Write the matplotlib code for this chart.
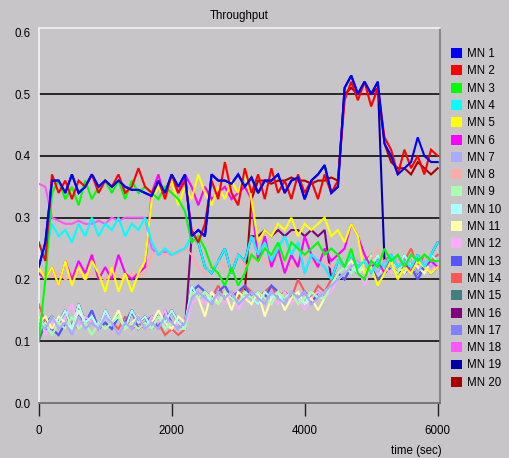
import numpy as np
import matplotlib
matplotlib.use("Agg")
import matplotlib.pyplot as plt
from matplotlib.patches import Patch

plt.rcParams['font.family'] = ['Liberation Sans', 'DejaVu Sans']

# ---------------- data ----------------
time_s = np.arange(0, 6001, 100)  # sample instants (sec)

mn1 = [0.22, 0.26, 0.36, 0.36, 0.34, 0.37, 0.34, 0.35, 0.37, 0.35,
       0.36, 0.35, 0.36, 0.35, 0.345, 0.345, 0.34, 0.335, 0.36, 0.34,
       0.37, 0.35, 0.37, 0.27, 0.28, 0.27, 0.37, 0.36, 0.36, 0.355,
       0.37, 0.35, 0.365, 0.34, 0.36, 0.36, 0.37, 0.34, 0.36, 0.365,
       0.33, 0.36, 0.37, 0.385, 0.34, 0.35, 0.51, 0.53, 0.50, 0.52,
       0.50, 0.52, 0.42, 0.40, 0.37, 0.38, 0.39, 0.43, 0.40, 0.39,
       0.39]
mn2 = [0.26, 0.23, 0.37, 0.34, 0.36, 0.33, 0.36, 0.35, 0.37, 0.34,
       0.36, 0.35, 0.37, 0.34, 0.35, 0.38, 0.35, 0.34, 0.36, 0.33,
       0.37, 0.34, 0.36, 0.28, 0.26, 0.29, 0.36, 0.33, 0.39, 0.34,
       0.32, 0.38, 0.34, 0.37, 0.33, 0.38, 0.34, 0.36, 0.33, 0.37,
       0.34, 0.36, 0.33, 0.37, 0.34, 0.36, 0.49, 0.52, 0.49, 0.52,
       0.48, 0.51, 0.43, 0.41, 0.37, 0.41, 0.38, 0.40, 0.37, 0.41,
       0.40]
mn3 = [0.10, 0.20, 0.34, 0.36, 0.33, 0.35, 0.32, 0.36, 0.33, 0.35,
       0.36, 0.34, 0.36, 0.33, 0.36, 0.34, 0.35, 0.34, 0.33, 0.35,
       0.34, 0.33, 0.31, 0.26, 0.27, 0.25, 0.22, 0.21, 0.19, 0.22,
       0.19, 0.21, 0.24, 0.23, 0.25, 0.24, 0.26, 0.23, 0.26, 0.25,
       0.24, 0.25, 0.26, 0.24, 0.25, 0.24, 0.22, 0.25, 0.21, 0.20,
       0.23, 0.22, 0.25, 0.23, 0.24, 0.22, 0.24, 0.23, 0.24, 0.23,
       0.23]
mn4 = [0.26, 0.24, 0.29, 0.27, 0.28, 0.26, 0.29, 0.27, 0.30, 0.27,
       0.29, 0.28, 0.30, 0.27, 0.29, 0.28, 0.30, 0.26, 0.24, 0.25,
       0.24, 0.245, 0.25, 0.27, 0.26, 0.22, 0.21, 0.23, 0.25, 0.21,
       0.24, 0.23, 0.27, 0.24, 0.26, 0.23, 0.25, 0.27, 0.24, 0.26,
       0.21, 0.24, 0.23, 0.22, 0.20, 0.23, 0.22, 0.24, 0.22, 0.23,
       0.21, 0.23, 0.22, 0.24, 0.22, 0.23, 0.22, 0.24, 0.22, 0.24,
       0.26]
mn5 = [0.22, 0.20, 0.22, 0.19, 0.23, 0.19, 0.22, 0.20, 0.23, 0.21,
       0.18, 0.22, 0.18, 0.21, 0.18, 0.21, 0.23, 0.33, 0.35, 0.33,
       0.36, 0.32, 0.35, 0.33, 0.37, 0.34, 0.32, 0.35, 0.33, 0.36,
       0.34, 0.37, 0.33, 0.26, 0.28, 0.27, 0.29, 0.28, 0.30, 0.27,
       0.29, 0.28, 0.29, 0.30, 0.27, 0.28, 0.26, 0.29, 0.27, 0.21,
       0.22, 0.19, 0.21, 0.23, 0.20, 0.22, 0.21, 0.23, 0.22, 0.21,
       0.22]
mn6 = [0.21, 0.20, 0.22, 0.19, 0.23, 0.20, 0.23, 0.21, 0.24, 0.20,
       0.22, 0.20, 0.24, 0.21, 0.20, 0.21, 0.22, 0.34, 0.37, 0.33,
       0.36, 0.34, 0.37, 0.35, 0.32, 0.35, 0.33, 0.34, 0.35, 0.33,
       0.34, 0.35, 0.33, 0.23, 0.27, 0.22, 0.25, 0.21, 0.24, 0.22,
       0.27, 0.24, 0.22, 0.25, 0.23, 0.24, 0.25, 0.29, 0.27, 0.24,
       0.22, 0.23, 0.21, 0.24, 0.22, 0.23, 0.21, 0.24, 0.22, 0.23,
       0.22]
mn7 = [0.13, 0.12, 0.14, 0.12, 0.13, 0.11, 0.14, 0.12, 0.13, 0.12,
       0.14, 0.13, 0.11, 0.13, 0.12, 0.14, 0.12, 0.13, 0.12, 0.14,
       0.13, 0.12, 0.13, 0.17, 0.18, 0.17, 0.16, 0.18, 0.17, 0.18,
       0.16, 0.17, 0.18, 0.17, 0.16, 0.18, 0.17, 0.16, 0.18, 0.17,
       0.18, 0.16, 0.17, 0.18, 0.19, 0.20, 0.21, 0.22, 0.23, 0.22,
       0.23, 0.21, 0.23, 0.22, 0.24, 0.22, 0.23, 0.21, 0.23, 0.22,
       0.23]
mn8 = [0.21, 0.21, 0.205, 0.21, 0.20, 0.205, 0.21, 0.20, 0.21, 0.205,
       0.20, 0.21, 0.205, 0.20, 0.21, 0.205, 0.21, 0.24, 0.245, 0.24,
       0.245, 0.24, 0.25, 0.24, 0.22, 0.21, 0.22, 0.23, 0.22, 0.23,
       0.24, 0.22, 0.23, 0.24, 0.23, 0.22, 0.24, 0.23, 0.22, 0.23,
       0.24, 0.23, 0.22, 0.23, 0.22, 0.23, 0.22, 0.24, 0.23, 0.22,
       0.23, 0.25, 0.22, 0.24, 0.23, 0.22, 0.24, 0.23, 0.24, 0.22,
       0.23]
mn9 = [0.12, 0.13, 0.11, 0.13, 0.12, 0.14, 0.12, 0.13, 0.11, 0.13,
       0.12, 0.13, 0.14, 0.12, 0.13, 0.12, 0.13, 0.12, 0.14, 0.12,
       0.13, 0.12, 0.12, 0.18, 0.17, 0.18, 0.17, 0.16, 0.18, 0.17,
       0.16, 0.18, 0.17, 0.18, 0.17, 0.16, 0.18, 0.17, 0.18, 0.16,
       0.17, 0.18, 0.17, 0.17, 0.19, 0.21, 0.22, 0.21, 0.23, 0.22,
       0.24, 0.22, 0.23, 0.22, 0.21, 0.23, 0.22, 0.24, 0.22, 0.23,
       0.22]
mn10 = [0.14, 0.12, 0.14, 0.13, 0.15, 0.12, 0.16, 0.13, 0.14, 0.12,
        0.15, 0.13, 0.14, 0.12, 0.15, 0.13, 0.14, 0.12, 0.14, 0.13,
        0.15, 0.13, 0.12, 0.19, 0.17, 0.18, 0.16, 0.18, 0.17, 0.18,
        0.16, 0.18, 0.17, 0.16, 0.18, 0.17, 0.18, 0.16, 0.18, 0.17,
        0.16, 0.18, 0.17, 0.18, 0.19, 0.20, 0.21, 0.22, 0.21, 0.23,
        0.22, 0.24, 0.22, 0.23, 0.22, 0.24, 0.22, 0.23, 0.22, 0.24,
        0.23]
mn11 = [0.13, 0.14, 0.12, 0.14, 0.13, 0.12, 0.15, 0.13, 0.14, 0.12,
        0.14, 0.13, 0.15, 0.12, 0.13, 0.14, 0.12, 0.13, 0.15, 0.13,
        0.12, 0.14, 0.13, 0.18, 0.17, 0.14, 0.18, 0.16, 0.18, 0.15,
        0.18, 0.17, 0.16, 0.18, 0.14, 0.17, 0.18, 0.15, 0.17, 0.18,
        0.16, 0.17, 0.15, 0.17, 0.19, 0.21, 0.22, 0.23, 0.21, 0.22,
        0.23, 0.21, 0.22, 0.24, 0.22, 0.21, 0.23, 0.22, 0.21, 0.23,
        0.22]
mn12 = [0.15, 0.11, 0.13, 0.12, 0.14, 0.16, 0.12, 0.14, 0.13, 0.12,
        0.15, 0.13, 0.14, 0.12, 0.13, 0.14, 0.12, 0.14, 0.13, 0.15,
        0.12, 0.13, 0.12, 0.16, 0.17, 0.16, 0.18, 0.17, 0.16, 0.18,
        0.15, 0.17, 0.16, 0.18, 0.14, 0.17, 0.16, 0.18, 0.16, 0.17,
        0.15, 0.17, 0.18, 0.17, 0.18, 0.20, 0.21, 0.23, 0.22, 0.19,
        0.22, 0.23, 0.22, 0.21, 0.23, 0.22, 0.24, 0.22, 0.23, 0.21,
        0.23]
mn13 = [0.13, 0.12, 0.12, 0.11, 0.13, 0.12, 0.14, 0.13, 0.15, 0.12,
        0.13, 0.12, 0.14, 0.13, 0.15, 0.12, 0.13, 0.14, 0.12, 0.15,
        0.13, 0.12, 0.13, 0.18, 0.19, 0.18, 0.17, 0.18, 0.19, 0.17,
        0.18, 0.19, 0.17, 0.18, 0.17, 0.19, 0.18, 0.17, 0.18, 0.17,
        0.18, 0.16, 0.18, 0.17, 0.19, 0.21, 0.20, 0.22, 0.21, 0.23,
        0.22, 0.20, 0.21, 0.22, 0.23, 0.21, 0.22, 0.20, 0.22, 0.21,
        0.22]
mn14 = [0.16, 0.13, 0.12, 0.14, 0.12, 0.13, 0.12, 0.14, 0.13, 0.12,
        0.14, 0.13, 0.12, 0.14, 0.12, 0.13, 0.12, 0.14, 0.13, 0.11,
        0.12, 0.11, 0.12, 0.18, 0.17, 0.18, 0.17, 0.19, 0.17, 0.18,
        0.17, 0.19, 0.18, 0.17, 0.18, 0.19, 0.17, 0.18, 0.17, 0.20,
        0.18, 0.17, 0.19, 0.18, 0.20, 0.21, 0.22, 0.23, 0.21, 0.23,
        0.24, 0.22, 0.23, 0.24, 0.22, 0.23, 0.25, 0.22, 0.24, 0.23,
        0.24]
mn15 = [0.10, 0.13, 0.14, 0.13, 0.15, 0.12, 0.16, 0.13, 0.14, 0.12,
        0.15, 0.13, 0.14, 0.12, 0.15, 0.13, 0.14, 0.12, 0.14, 0.13,
        0.15, 0.13, 0.12, 0.19, 0.17, 0.18, 0.16, 0.18, 0.17, 0.18,
        0.16, 0.18, 0.17, 0.16, 0.18, 0.17, 0.18, 0.16, 0.18, 0.17,
        0.16, 0.18, 0.17, 0.18, 0.19, 0.20, 0.21, 0.22, 0.21, 0.23,
        0.22, 0.24, 0.22, 0.23, 0.22, 0.24, 0.22, 0.23, 0.22, 0.24,
        0.23]
mn16 = [0.14, 0.12, 0.14, 0.13, 0.15, 0.12, 0.16, 0.13, 0.14, 0.12,
        0.15, 0.13, 0.14, 0.12, 0.15, 0.13, 0.14, 0.12, 0.14, 0.13,
        0.15, 0.13, 0.12, 0.27, 0.26, 0.22, 0.21, 0.23, 0.25, 0.21,
        0.24, 0.23, 0.27, 0.27, 0.28, 0.27, 0.28, 0.27, 0.28, 0.28,
        0.27, 0.28, 0.27, 0.28, 0.20, 0.23, 0.22, 0.24, 0.22, 0.23,
        0.21, 0.23, 0.22, 0.24, 0.22, 0.23, 0.22, 0.24, 0.22, 0.24,
        0.26]
mn17 = [0.13, 0.12, 0.12, 0.11, 0.13, 0.12, 0.14, 0.13, 0.15, 0.12,
        0.13, 0.12, 0.14, 0.13, 0.15, 0.12, 0.13, 0.14, 0.12, 0.15,
        0.13, 0.12, 0.13, 0.18, 0.19, 0.18, 0.17, 0.18, 0.19, 0.17,
        0.18, 0.19, 0.17, 0.18, 0.17, 0.19, 0.18, 0.17, 0.18, 0.17,
        0.18, 0.16, 0.18, 0.17, 0.19, 0.21, 0.20, 0.22, 0.21, 0.23,
        0.22, 0.20, 0.21, 0.22, 0.23, 0.21, 0.22, 0.20, 0.22, 0.21,
        0.22]
mn18 = [0.355, 0.35, 0.30, 0.295, 0.29, 0.29, 0.295, 0.29, 0.29, 0.295,
        0.29, 0.30, 0.295, 0.30, 0.30, 0.30, 0.30, 0.25, 0.24, 0.245,
        0.24, 0.245, 0.25, 0.27, 0.26, 0.22, 0.21, 0.23, 0.25, 0.21,
        0.24, 0.23, 0.27, 0.24, 0.26, 0.23, 0.25, 0.27, 0.24, 0.26,
        0.21, 0.24, 0.23, 0.22, 0.20, 0.23, 0.22, 0.24, 0.22, 0.23,
        0.21, 0.23, 0.22, 0.24, 0.22, 0.23, 0.22, 0.24, 0.22, 0.24,
        0.26]
mn19 = [0.22, 0.26, 0.36, 0.36, 0.34, 0.37, 0.34, 0.35, 0.37, 0.35,
        0.36, 0.35, 0.36, 0.35, 0.345, 0.345, 0.34, 0.335, 0.36, 0.34,
        0.37, 0.35, 0.37, 0.27, 0.28, 0.27, 0.37, 0.36, 0.36, 0.355,
        0.37, 0.35, 0.365, 0.34, 0.36, 0.36, 0.37, 0.34, 0.36, 0.365,
        0.33, 0.36, 0.37, 0.385, 0.34, 0.35, 0.51, 0.53, 0.50, 0.52,
        0.50, 0.52, 0.23, 0.22, 0.21, 0.22, 0.23, 0.21, 0.22, 0.23,
        0.22]
mn20 = [0.14, 0.12, 0.14, 0.13, 0.15, 0.12, 0.16, 0.13, 0.14, 0.12,
        0.15, 0.13, 0.14, 0.12, 0.15, 0.13, 0.14, 0.12, 0.14, 0.13,
        0.15, 0.13, 0.12, 0.19, 0.17, 0.18, 0.16, 0.18, 0.17, 0.18,
        0.16, 0.18, 0.33, 0.36, 0.36, 0.355, 0.36, 0.36, 0.365, 0.36,
        0.36, 0.355, 0.36, 0.36, 0.365, 0.36, 0.50, 0.51, 0.50, 0.50,
        0.50, 0.51, 0.42, 0.39, 0.38, 0.38, 0.37, 0.39, 0.38, 0.37,
        0.38]

series_names = [f"MN {i}" for i in range(1, 21)]
series_values = [mn1, mn2, mn3, mn4, mn5, mn6, mn7, mn8, mn9, mn10,
                 mn11, mn12, mn13, mn14, mn15, mn16, mn17, mn18, mn19, mn20]
series_colors = ['#0000ff', '#ff0000', '#00ff00', '#00ffff', '#ffff00',
                 '#ff00ff', '#aaaaff', '#ffaaaa', '#aaffaa', '#aaffff',
                 '#ffffaa', '#ffaaff', '#5555ff', '#ff5555', '#408080',
                 '#800080', '#8080ff', '#ff55ff', '#0000aa', '#aa0000']

y_ticks = [0.0, 0.1, 0.2, 0.3, 0.4, 0.5, 0.6]
y_ticklabels = ['0.0', '0.1', '0.2', '0.3', '0.4', '0.5', '0.6']
x_ticks = [0, 2000, 4000, 6000]
x_ticklabels = ['0', '2000', '4000', '6000']

# ---------------- figure ----------------
BG = '#c8c5c9'
W, H = 509, 458
FS = 8.3
fig = plt.figure(figsize=(W / 100, H / 100), dpi=100, facecolor=BG)
ax = fig.add_axes([38.7 / W, 1 - 403 / H, (440 - 38.7) / W, (403 - 28) / H])
ax.set_facecolor(BG)

for name, vals, col in reversed(list(zip(series_names, series_values, series_colors))):
    ax.plot(time_s, vals, color=col, lw=1.5, solid_joinstyle='miter', zorder=3)

for g in y_ticks[1:-1]:
    ax.axhline(g, color='#1c1c1c', lw=1.3, zorder=1)

ax.set_xlim(0, 6035)
ax.set_ylim(0, 0.607)
ax.set_yticks(y_ticks)
ax.set_yticklabels(y_ticklabels, fontsize=FS)
ax.set_xticks(x_ticks)
ax.set_xticklabels(x_ticklabels, fontsize=FS)
ax.tick_params(axis='y', length=0, pad=6)
ax.tick_params(axis='x', direction='out', length=9, width=1.0, color='#202020', pad=7)

ax.spines['top'].set_color('#f4f4f4')
ax.spines['left'].set_color('#f4f4f4')
ax.spines['bottom'].set_color('#6a6a6a')
ax.spines['right'].set_color('#7a7a7a')
for s in ax.spines.values():
    s.set_linewidth(1.2)

fig.text(239 / W, 1 - 16 / H, 'Throughput', ha='center', va='center', fontsize=FS)
fig.text(442 / W, 1 - 451 / H, 'time (sec)', ha='right', va='center', fontsize=FS)

handles = [Patch(facecolor=c, edgecolor='none') for c in series_colors]
fig.legend(handles, series_names, loc='upper left',
           bbox_to_anchor=(451 / W, 1 - 48 / H), frameon=False,
           handlelength=0.95, handleheight=0.95, handletextpad=0.4,
           labelspacing=0.46, borderpad=0, borderaxespad=0, fontsize=FS)

fig.savefig('out.png', dpi=100, facecolor=BG)
